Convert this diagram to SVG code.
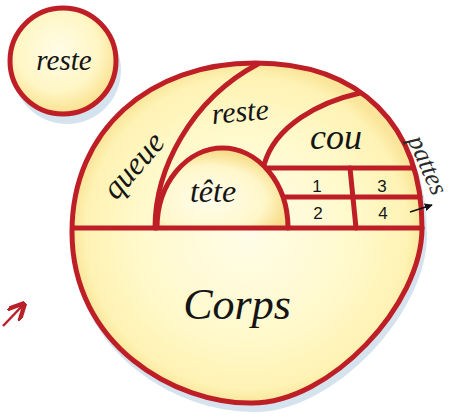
<svg xmlns="http://www.w3.org/2000/svg" width="454" height="419" viewBox="0 0 454 419">
<defs>
<radialGradient id="gBig" cx="0.5" cy="0.5" r="0.5">
<stop offset="0" stop-color="#FFFDE8"/>
<stop offset="0.6" stop-color="#FFF9CC"/>
<stop offset="0.92" stop-color="#FEF3B4"/>
<stop offset="1" stop-color="#FAE59A"/>
</radialGradient>
<radialGradient id="gSmall" cx="0.45" cy="0.4" r="0.6">
<stop offset="0" stop-color="#FFFCE6"/>
<stop offset="0.65" stop-color="#FFF6C4"/>
<stop offset="1" stop-color="#F9E08E"/>
</radialGradient>
<radialGradient id="gHead" cx="0.4" cy="0.65" r="0.6">
<stop offset="0" stop-color="#FFFDEC"/>
<stop offset="0.7" stop-color="#FFF7CA"/>
<stop offset="1" stop-color="#F8DE8C"/>
</radialGradient>
<marker id="ahBlack" viewBox="0 0 10 10" refX="9" refY="5" markerWidth="5" markerHeight="5" orient="auto">
<path d="M0,0 L10,5 L0,10 z" fill="#111"/>
</marker>
<marker id="ahRed" viewBox="0 0 10 10" refX="9" refY="5" markerWidth="7" markerHeight="7" orient="auto">
<path d="M0,0 L10,5 L0,10" fill="none" stroke="#B8202A" stroke-width="2.5"/>
</marker>
</defs>
<style>
.rim{stroke:#BE1E26;stroke-width:5;stroke-linecap:round;stroke-linejoin:round}
.div{fill:none;stroke:#BE1E26;stroke-width:5;stroke-linecap:round}
.shadow{fill:#D5E3EE}
.hand{font-family:"Liberation Serif","DejaVu Serif",serif;font-style:italic;fill:#151515;text-anchor:middle;dominant-baseline:central}
.num{font-family:"Liberation Sans","DejaVu Sans",sans-serif;fill:#151515;text-anchor:middle;dominant-baseline:central;font-size:17px}
</style>

<g id="reste-small">
<circle class="shadow" cx="67" cy="70" r="54"/>
<circle cx="63" cy="61" r="53" fill="url(#gSmall)" class="rim"/>
<text class="hand" x="64" y="60" font-size="29">reste</text>
</g>

<g id="corps">
<path class="shadow" transform="translate(3,7)" d="M72,232 C72,130 150,63 255,63 C360,63 422,125 422,228 C422,305 330,403 252,403 C175,404 72,345 72,232 Z" stroke="#D5E3EE" stroke-width="4"/>
<path d="M72,232 C72,130 150,63 255,63 C360,63 422,125 422,228 C422,305 330,403 252,403 C175,404 72,345 72,232 Z" fill="url(#gBig)" class="rim"/>
<text class="hand" x="237" y="304" font-size="44">Corps</text>
</g>

<g id="tete">
<path d="M157,228 A65.5,80 0 0 1 288,228 Z" fill="url(#gHead)"/>
<text class="hand" x="213" y="191" font-size="32">tête</text>
</g>

<g id="queue">
<text class="hand" x="133" y="165" font-size="32" transform="rotate(-49 133 165)">queue</text>
</g>

<g id="reste-inner">
<text class="hand" x="240" y="111" font-size="30" transform="rotate(-5 240 111)">reste</text>
</g>

<g id="cou">
<text class="hand" x="336" y="137" font-size="36">cou</text>
</g>

<g id="patte-1"><text class="num" x="317" y="186">1</text></g>
<g id="patte-2"><text class="num" x="318" y="213">2</text></g>
<g id="patte-3"><text class="num" x="382" y="186">3</text></g>
<g id="patte-4"><text class="num" x="383" y="213">4</text></g>

<g id="pattes">
<text x="428" y="165" font-family="Liberation Serif, DejaVu Serif, serif" font-style="italic" font-size="26" fill="#2a2a2a" text-anchor="middle" dominant-baseline="central" transform="rotate(66 428 165)">pattes</text>
</g>

<g id="connectors">
<path class="div" d="M73,228 L422,228"/>
<path class="div" d="M155,228 C155,170 190,100 258,64"/>
<path class="div" d="M157,228 A65.5,80 0 0 1 288,228"/>
<path class="div" d="M360,93 C320,102 275,125 264,165"/>
<path class="div" d="M266,168 L413,168"/>
<path class="div" d="M284,197 L420,197"/>
<path class="div" d="M350,168 L356,228"/>
<path d="M410,212 L432,205" fill="none" stroke="#111" stroke-width="1.6" marker-end="url(#ahBlack)"/>
<path d="M3,326 L24,304" fill="none" stroke="#B8202A" stroke-width="2.5" marker-end="url(#ahRed)"/>
</g>
</svg>
